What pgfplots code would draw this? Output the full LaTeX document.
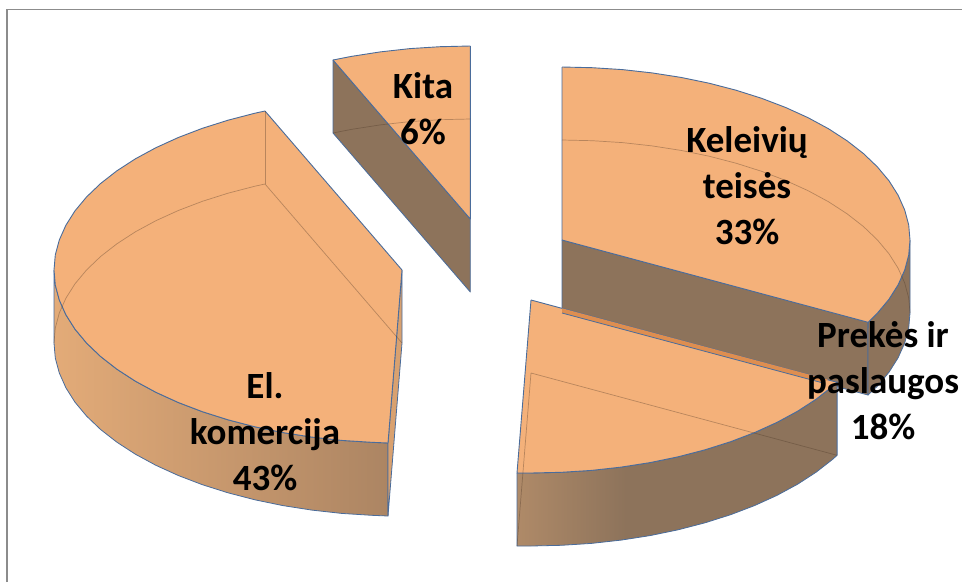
\documentclass[border=0pt]{standalone}
\usepackage{pgfplots}
\pgfplotsset{compat=1.18}
\usepackage{fontspec}
\setmainfont{Carlito}
\definecolor{topc}{HTML}{F4B17A}
\definecolor{wall}{HTML}{8D735B}
\definecolor{edge}{HTML}{4A6C9B}
\definecolor{wedge}{HTML}{D9A16F}
\definecolor{sliver}{HTML}{DE8E50}
\definecolor{frame}{HTML}{8C8C8C}
\definecolor{b1}{HTML}{AF8A68}
\definecolor{elL}{HTML}{E3AB78}
\definecolor{elR}{HTML}{AC8563}
\pgfdeclarehorizontalshading{prekshade}{100bp}{color(0bp)=(b1);color(25bp)=(b1);color(42bp)=(wall);color(100bp)=(wall)}
\tikzset{
  face/.style={draw=edge,line width=0.9pt,fill=topc,line join=round},
  wallface/.style={draw=edge,line width=0.8pt,fill=wall,line join=round},
  faint/.style={draw=black!70!topc,line width=0.7pt,opacity=0.35},
  lab/.style={font=\fontsize{37}{46}\selectfont\bfseries,align=center,text=black,inner sep=0pt}
}
\begin{document}
\begin{tikzpicture}
\begin{axis}[
  scale only axis,width=962pt,height=582pt,
  xmin=0,xmax=962,ymin=0,ymax=582,y dir=reverse,
  axis lines=none,clip=true]
\path (rel axis cs:0,0) rectangle (rel axis cs:1,1);
% frame
\addplot[draw=frame,line width=2.2pt] coordinates {(6.8,582) (6.8,9.5)};
\addplot[draw=frame,line width=1.6pt] coordinates {(6,9.5) (962,9.5)};
% Kita
\addplot[wallface] coordinates {(333,60) (470.3,219) (470.3,292) (333,133) (333,60)};
\addplot[face] coordinates {(470.3,46) (440,46.7) (409.9,48.6) (380.2,51.9) (351.3,56.4) (333,60) (470.3,219) (470.3,46)};
\addplot[faint] coordinates {(333,133) (351.3,129.4) (380.2,124.9) (409.9,121.6) (440,119.7) (470.3,119)};
% Keleiviu teises
\addplot[wallface] coordinates {(562,240) (868,322) (868,395) (562,313) (562,240)};
\addplot[wallface] coordinates {(910,240) (908.7,255.1) (904.7,270) (898.1,284.8) (889,299.2) (877.4,313.1) (868.1,322.3) (868,395) (877.4,386.1) (889,372.2) (898.1,357.8) (904.7,343) (908.7,328.1) (910,313) (910,240)};
\addplot[face] coordinates {(562,67) (592.3,67.7) (622.4,69.6) (652.1,72.9) (681,77.4) (709.1,83.2) (736,90.2) (761.6,98.3) (785.7,107.5) (808.1,117.7) (828.6,128.8) (847.1,140.8) (863.4,153.5) (877.4,166.9) (889,180.8) (898.1,195.2) (904.7,210) (908.7,224.9) (910,240) (908.7,255.1) (904.7,270) (898.1,284.8) (889,299.2) (877.4,313.1) (868.1,322.3) (562,240) (562,67)};
\addplot[faint] coordinates {(562,140) (592.3,140.7) (622.4,142.6) (652.1,145.9) (681,150.4) (709.1,156.2) (736,163.2) (761.6,171.3) (785.7,180.5) (808.1,190.7) (828.6,201.8) (847.1,213.8) (863.4,226.5) (877.4,239.9) (889,253.8) (898.1,268.2) (904.7,283) (908.7,297.9) (910,313)};
% Prekes ir paslaugos
\addplot[draw=edge,line width=0.8pt,shading=prekshade] coordinates {(517,473) (531,473) (561.3,472.3) (591.4,470.4) (621.1,467.1) (650,462.6) (678.1,456.8) (705,449.8) (730.6,441.7) (754.7,432.5) (777.1,422.3) (797.6,411.2) (816.1,399.2) (832.4,386.5) (837.1,382.3) (837.1,455.3) (832.4,459.5) (816.1,472.2) (797.6,484.2) (777.1,495.3) (754.7,505.5) (730.6,514.7) (705,522.8) (678.1,529.8) (650,535.6) (621.1,540.1) (591.4,543.4) (561.3,545.3) (531,546) (517,546) (517,473)};
\addplot[face] coordinates {(531,300) (517,473) (531,473) (561.3,472.3) (591.4,470.4) (621.1,467.1) (650,462.6) (678.1,456.8) (705,449.8) (730.6,441.7) (754.7,432.5) (777.1,422.3) (797.6,411.2) (816.1,399.2) (832.4,386.5) (837.1,382.3) (531,300)};
\addplot[fill=sliver,draw=none] coordinates {(562,308.3) (828,379.6) (822,382.7) (562,313) (562,308.3)};
\addplot[draw=edge,line width=0.8pt] coordinates {(562,313) (822,382.7)};
\addplot[faint] coordinates {(531,373) (837,455.3)};
\addplot[faint] coordinates {(531,373) (517,546)};
% El. komercija
\addplot[draw=edge,line width=0.8pt,left color=elL,right color=elR] coordinates {(54,270) (55.3,285.1) (59.3,300) (65.9,314.8) (75,329.2) (86.6,343.1) (100.6,356.5) (116.9,369.2) (135.4,381.2) (155.9,392.3) (178.3,402.5) (202.4,411.7) (228,419.8) (254.9,426.8) (283,432.6) (311.9,437.1) (341.6,440.4) (371.7,442.3) (388,443) (388,516) (371.7,515.3) (341.6,513.4) (311.9,510.1) (283,505.6) (254.9,499.8) (228,492.8) (202.4,484.7) (178.3,475.5) (155.9,465.3) (135.4,454.2) (116.9,442.2) (100.6,429.5) (86.6,416.1) (75,402.2) (65.9,387.8) (59.3,373) (55.3,358.1) (54,343) (54,270)};
\addplot[draw=edge,line width=0.8pt,fill=wedge] coordinates {(402,270) (402,343) (388,516) (388,443) (402,270)};
\addplot[face] coordinates {(265,111) (254.9,113.2) (228,120.2) (202.4,128.3) (178.3,137.5) (155.9,147.7) (135.4,158.8) (116.9,170.8) (100.6,183.5) (86.6,196.9) (75,210.8) (65.9,225.2) (59.3,240) (55.3,254.9) (54,270) (55.3,285.1) (59.3,300) (65.9,314.8) (75,329.2) (86.6,343.1) (100.6,356.5) (116.9,369.2) (135.4,381.2) (155.9,392.3) (178.3,402.5) (202.4,411.7) (228,419.8) (254.9,426.8) (283,432.6) (311.9,437.1) (341.6,440.4) (371.7,442.3) (388,443) (402,270) (265,111)};
\addplot[faint] coordinates {(265,111) (265,184)};
\addplot[faint] coordinates {(265,184) (254.9,186.2) (228,193.2) (202.4,201.3) (178.3,210.5) (155.9,220.7) (135.4,231.8) (116.9,243.8) (100.6,256.5) (86.6,269.9) (75,283.8) (65.9,298.2) (59.3,313) (55.3,327.9) (54,343)};
\addplot[faint] coordinates {(265,184) (402,343)};
% labels
\node[lab] at (axis cs:747,186) {Keleivių\\teisės\\33\%};
\node[lab] at (axis cs:423,109) {Kita\\6\%};
\node[lab] at (axis cs:883,381) {Prekės ir\\paslaugos\\18\%};
\node[lab] at (axis cs:265,432) {El.\\komercija\\43\%};
\end{axis}
\end{tikzpicture}
\end{document}
